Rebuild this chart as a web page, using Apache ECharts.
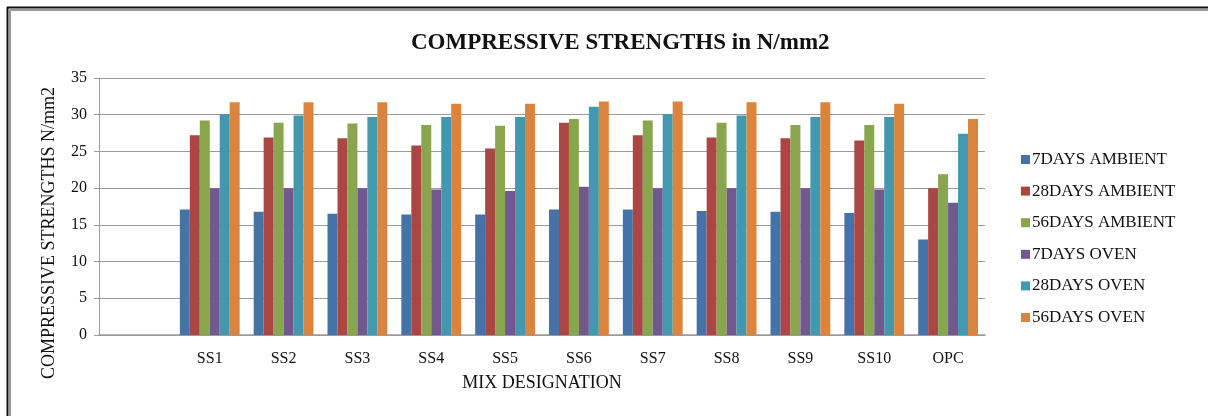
<!DOCTYPE html>
<html>
<head>
<meta charset="utf-8">
<script src="https://cdn.jsdelivr.net/npm/echarts@6/dist/echarts.min.js"></script>
<style>
  html, body { margin: 0; padding: 0; background: #ffffff; }
  #chart { width: 1208px; height: 416px; }
</style>
</head>
<body>
<div id="chart"></div>
<script>
// Mix designations (first slot left blank, as on the category axis)
const categories = ['', 'SS1', 'SS2', 'SS3', 'SS4', 'SS5', 'SS6', 'SS7', 'SS8', 'SS9', 'SS10', 'OPC'];

// Compressive strengths, N/mm2
const days7Ambient  = [null, 17.1, 16.8, 16.5, 16.4, 16.4, 17.1, 17.1, 16.9, 16.8, 16.6, 13.0];
const days28Ambient = [null, 27.2, 26.9, 26.8, 25.8, 25.4, 28.9, 27.2, 26.9, 26.8, 26.5, 20.0];
const days56Ambient = [null, 29.2, 28.9, 28.8, 28.6, 28.5, 29.4, 29.2, 28.9, 28.6, 28.6, 21.9];
const days7Oven     = [null, 20.0, 20.0, 20.0, 19.8, 19.6, 20.2, 20.0, 20.0, 20.0, 19.8, 18.0];
const days28Oven    = [null, 30.1, 29.9, 29.7, 29.7, 29.7, 31.1, 30.1, 29.9, 29.7, 29.7, 27.4];
const days56Oven    = [null, 31.7, 31.7, 31.7, 31.5, 31.5, 31.8, 31.8, 31.7, 31.7, 31.5, 29.4];

const seriesNames = ['7DAYS AMBIENT', '28DAYS AMBIENT', '56DAYS AMBIENT', '7DAYS OVEN', '28DAYS OVEN', '56DAYS OVEN'];
const seriesValues = [days7Ambient, days28Ambient, days56Ambient, days7Oven, days28Oven, days56Oven];
const colors = ['#4572A7', '#AA4643', '#89A54E', '#71588F', '#4198AF', '#DB843D'];

const serif = '"Liberation Serif", "DejaVu Serif", serif';

const chart = echarts.init(document.getElementById('chart'), null, { renderer: 'canvas' });

chart.setOption({
  animation: false,
  backgroundColor: '#ffffff',
  color: colors,
  title: {
    text: 'COMPRESSIVE STRENGTHS in N/mm2',
    left: 406,
    top: 27,
    textStyle: { fontFamily: serif, fontSize: 23, fontWeight: 'bold', color: '#111111' }
  },
  legend: {
    orient: 'vertical',
    left: 1016,
    top: 146,
    itemWidth: 9,
    itemHeight: 9,
    itemGap: 14.6,
    icon: 'rect',
    textStyle: { fontFamily: serif, fontSize: 17, color: '#111111', padding: [0, 0, 0, -3] },
    data: seriesNames
  },
  grid: { left: 99, right: 223, top: 78, bottom: 81, containLabel: false },
  xAxis: {
    type: 'category',
    data: categories,
    name: 'MIX DESIGNATION',
    nameLocation: 'middle',
    nameGap: 39,
    nameTextStyle: { fontFamily: serif, fontSize: 18, color: '#111111' },
    axisLine: { show: true, lineStyle: { color: '#9a9a9a', width: 1.5 } },
    axisTick: { show: false },
    axisLabel: { fontFamily: serif, fontSize: 16, color: '#111111', margin: 16 },
    splitLine: { show: false }
  },
  yAxis: {
    type: 'value',
    min: 0,
    max: 35,
    interval: 5,
    axisLine: { show: true, lineStyle: { color: '#9a9a9a', width: 1 } },
    axisTick: { show: true, length: 5, lineStyle: { color: '#9a9a9a' } },
    axisLabel: { fontFamily: serif, fontSize: 16, color: '#111111', margin: 12 },
    splitLine: { show: true, lineStyle: { color: '#9a9a9a', width: 1 } }
  },
  graphic: [
    // frame lines on the top and left edges
    { type: 'line', shape: { x1: 7, y1: 7.5, x2: 1208, y2: 7.5 }, style: { stroke: '#111111', lineWidth: 2 } },
    { type: 'line', shape: { x1: 9.5, y1: 10, x2: 1208, y2: 10 }, style: { stroke: '#9a9a9a', lineWidth: 2 } },
    { type: 'line', shape: { x1: 7.5, y1: 7, x2: 7.5, y2: 416 }, style: { stroke: '#111111', lineWidth: 2 } },
    { type: 'line', shape: { x1: 10, y1: 10, x2: 10, y2: 416 }, style: { stroke: '#9a9a9a', lineWidth: 2 } },
    // vertical axis title
    {
      type: 'text',
      x: 49,
      y: 233,
      rotation: Math.PI / 2,
      style: {
        text: 'COMPRESSIVE STRENGTHS N/mm2',
        font: '18px ' + serif,
        fill: '#111111',
        textAlign: 'center',
        textVerticalAlign: 'middle'
      }
    }
  ],
  series: seriesNames.map((name, i) => ({
    name: name,
    type: 'bar',
    data: seriesValues[i],
    barGap: '0%',
    barCategoryGap: '19%',
    itemStyle: { color: colors[i] }
  }))
});
</script>
</body>
</html>
